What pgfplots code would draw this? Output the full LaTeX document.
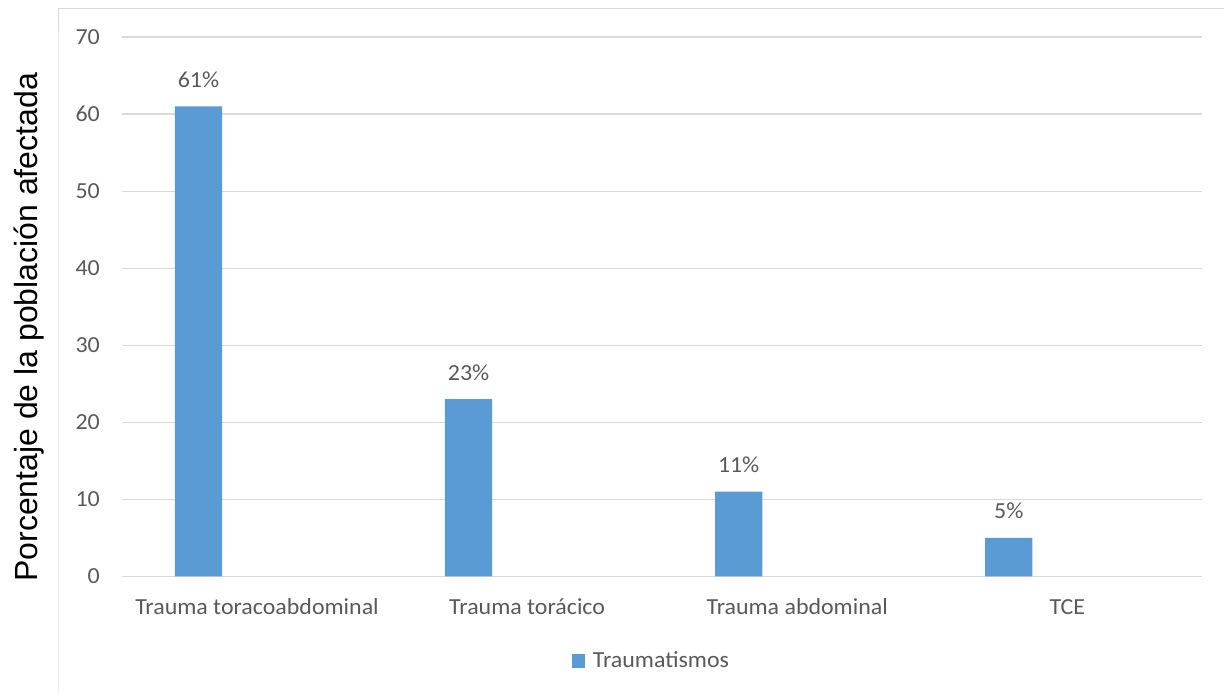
\documentclass[border=0pt]{standalone}
\usepackage{pgfplots}
\pgfplotsset{compat=1.18}
\usepackage{fontspec}
\setmainfont{Carlito}[FakeStretch=1.04]
\newfontfamily\arialfont{Liberation Sans}

\definecolor{barblue}{HTML}{5B9BD5}
\definecolor{txtgray}{HTML}{595959}
\definecolor{gridgray}{HTML}{D9D9D9}
\definecolor{framegray}{HTML}{EBEBEB}

\newcommand{\labelfont}{\fontsize{23}{27}\selectfont}

\begin{document}
\begin{tikzpicture}[x=1pt,y=1pt]
% page area
\path (0,0) rectangle (1225,693);
% chart-area border
\draw[framegray, line width=1pt] (58.5,662) -- (58.5,0);
\draw[gridgray, line width=1.2pt] (58.5,662) -- (58.5,684.7) -- (1225,684.7);

\begin{axis}[
  at={(122pt,116.3pt)}, anchor=south west,
  scale only axis, width=1081pt, height=539.7pt,
  xmin=-0.5, xmax=3.5, ymin=0, ymax=70,
  ybar, bar width=47.3pt,
  axis line style={draw=none},
  major tick length=0pt,
  ytick={0,10,...,70},
  xtick={0,1,2,3},
  xticklabels={Trauma toracoabdominal, Trauma torácico, Trauma abdominal, TCE},
  ymajorgrids,
  grid style={gridgray, line width=1.2pt},
  /pgf/number format/assume math mode=true,
  tick label style={font=\labelfont, text=txtgray, inner sep=0pt},
  yticklabel style={anchor=east, xshift=-22pt},
  xticklabel style={anchor=base, yshift=-38.3pt},
  ylabel={Porcentaje de la población afectada},
  ylabel style={font=\arialfont\fontsize{32}{38}\selectfont, text=black,
    at={(axis description cs:-0.0786,0.4617)}, anchor=base, inner sep=0pt},
  nodes near coords={\pgfmathprintnumber{\pgfplotspointmeta}\%},
  every node near coord/.append style={anchor=base, yshift=19pt,
    inner sep=0pt, font=\labelfont, text=txtgray},
  legend style={at={(axis description cs:0.416,-0.1562)}, anchor=west,
    draw=none, fill=none, inner sep=0pt, font=\labelfont, text=txtgray,
    nodes={inner sep=0pt},
    /tikz/every odd column/.append style={column sep=8pt}},
  legend image code/.code={\fill[barblue] (0pt,-7pt) rectangle (13.3pt,7pt);},
]
\addplot[fill=barblue, draw=none, bar shift=-58.6pt] coordinates {
  (0,61) (1,23) (2,11) (3,5)
};
\addlegendentry{Traumatismos}
\end{axis}
\end{tikzpicture}
\end{document}
